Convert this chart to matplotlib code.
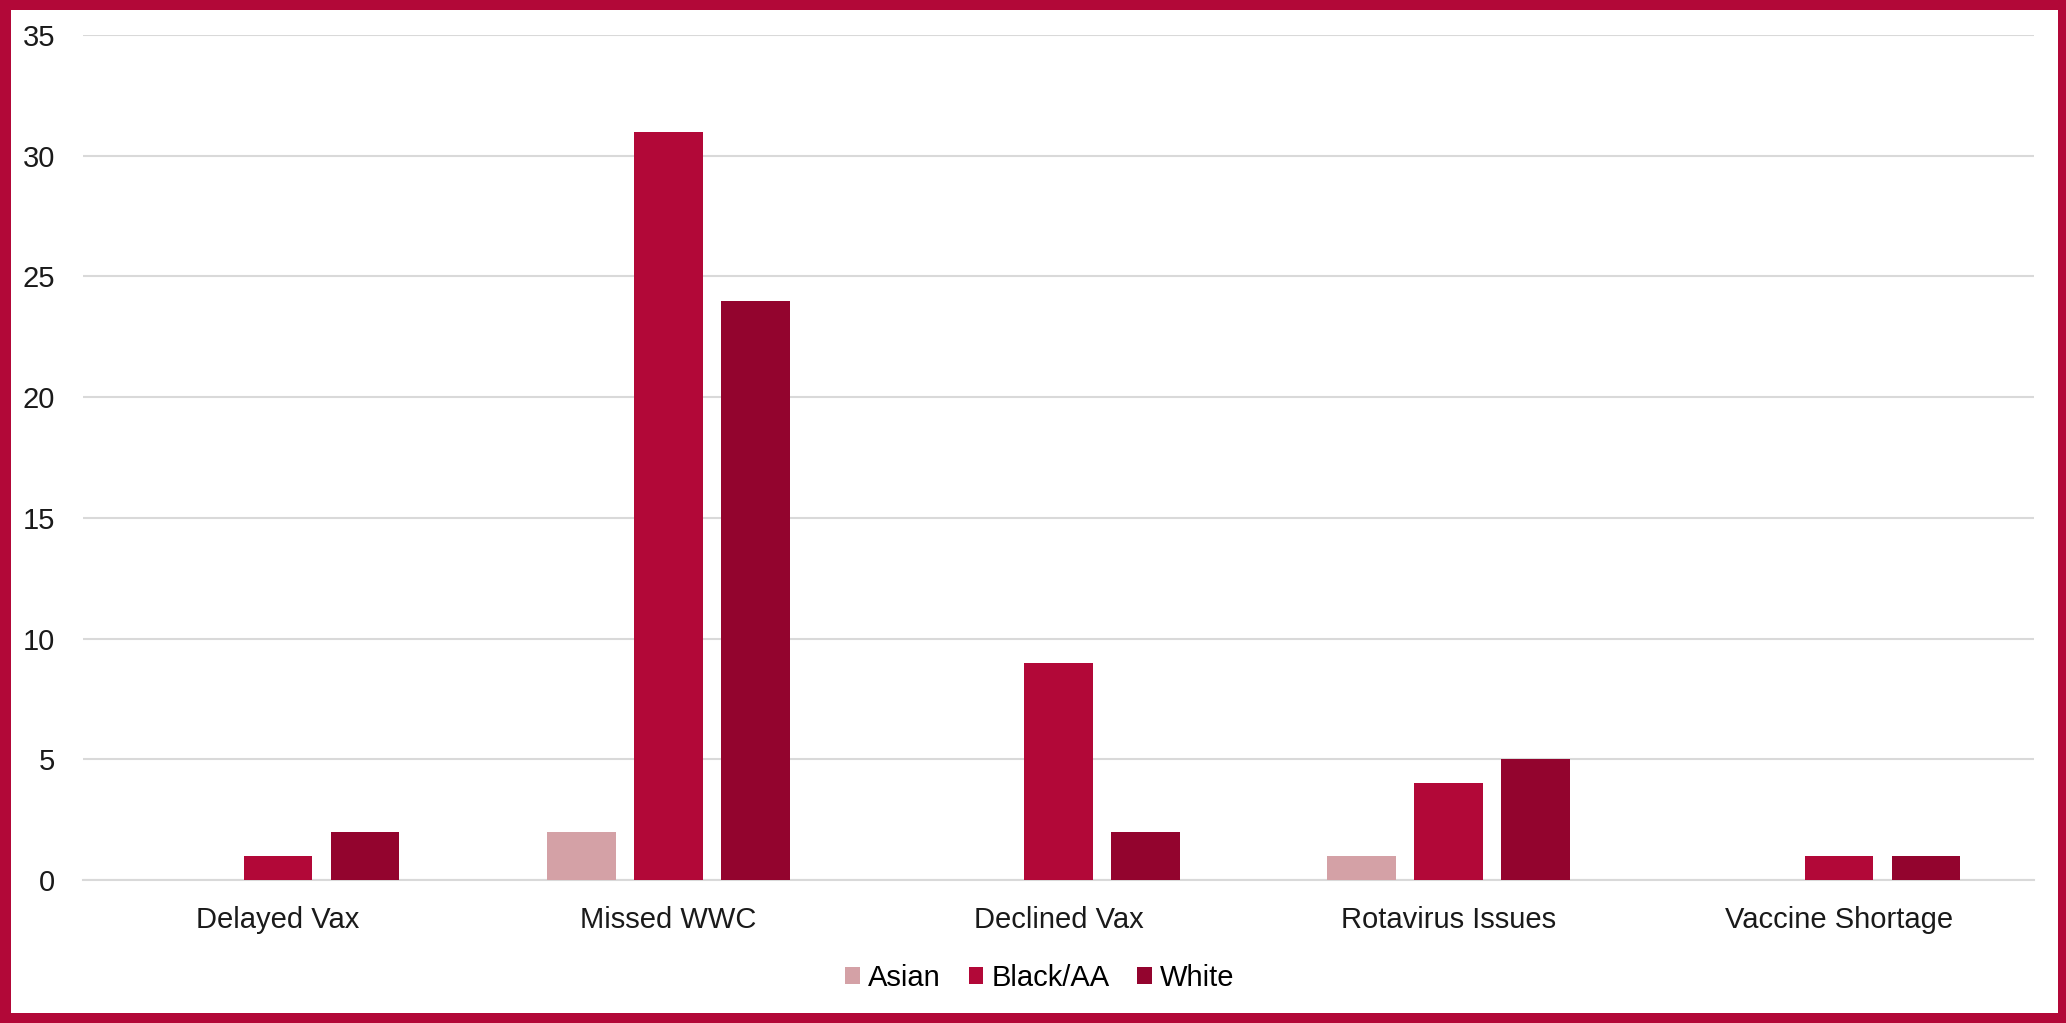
import matplotlib
matplotlib.use("Agg")
import matplotlib.pyplot as plt
from matplotlib.patches import Rectangle
import numpy as np

categories = ["Delayed Vax", "Missed WWC", "Declined Vax", "Rotavirus Issues", "Vaccine Shortage"]
series_names = ["Asian", "Black/AA", "White"]
asian = [0, 2, 0, 1, 0]
black = [1, 31, 9, 4, 1]
white = [2, 24, 2, 5, 1]
colors = ["#D4A1A6", "#B20838", "#93042E"]
yticks = [0, 5, 10, 15, 20, 25, 30, 35]

plt.rcParams['font.family'] = ['Liberation Sans', 'DejaVu Sans']

W, H = 2066, 1023
fig = plt.figure(figsize=(W / 100, H / 100), dpi=100)
fig.patch.set_facecolor("white")
ax = fig.add_axes([83 / W, 1 - 880 / H, (2034 - 83) / W, (880 - 35) / H])

x = np.arange(len(categories))
bw = 0.176
offs = [-0.223, 0.0, 0.223]
for vals, off, c, name in zip([asian, black, white], offs, colors, series_names):
    ax.bar(x + off, vals, width=bw, color=c, label=name, zorder=3)

ax.set_xlim(-0.5, len(categories) - 0.5)
ax.set_ylim(0, 35)
ax.set_yticks(yticks)
ax.set_yticklabels([str(t) for t in yticks])
ax.set_xticks(x)
ax.set_xticklabels(categories)
ax.tick_params(axis='both', length=0, labelsize=21, colors="#1a1a1a")
ax.tick_params(axis='y', pad=20)
ax.tick_params(axis='x', pad=19)
ax.grid(axis='y', color="#D9D9D9", linewidth=1.5, zorder=0)
for s in ["top", "right", "left"]:
    ax.spines[s].set_visible(False)
ax.spines["bottom"].set_color("#D9D9D9")
ax.spines["bottom"].set_linewidth(1.5)

leg = fig.legend(loc="center", bbox_to_anchor=(1040 / W, 1 - 978 / H), ncol=3,
                 frameon=False, fontsize=21, handlelength=0.5, handleheight=0.5,
                 handletextpad=0.28, columnspacing=0.95)

# border (pixel widths: left 11, right 8, top 10, bottom 10)
bc = "#B20838"
def px_rect(x0, y0, w, h):
    fig.patches.append(Rectangle((x0 / W, y0 / H), w / W, h / H, transform=fig.transFigure,
                                 facecolor=bc, edgecolor="none", zorder=10))
px_rect(0, 0, 11, H)
px_rect(W - 8, 0, 8, H)
px_rect(0, H - 10, W, 10)
px_rect(0, 0, W, 10)

fig.savefig("out.png", dpi=100, facecolor="white")
